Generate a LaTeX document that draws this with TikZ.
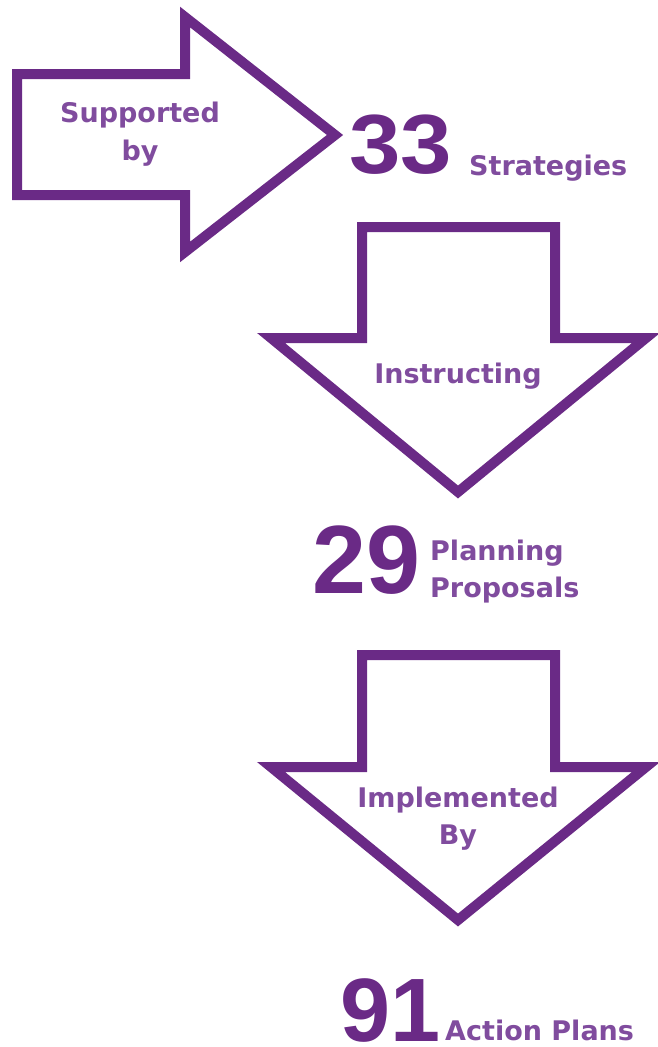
\documentclass[tikz,border=0pt]{standalone}
\usepackage{fontspec}
\setmainfont{DejaVu Sans}
\newfontfamily\numfont{Liberation Sans}
\usepackage{tikz}

\definecolor{darkpurple}{RGB}{106,42,134}
\definecolor{lightpurple}{RGB}{128,76,158}

\begin{document}
\begin{tikzpicture}[x=1pt, y=-1pt,
    outline/.style={draw=darkpurple, line width=10pt, line join=miter, miter limit=10},
    label/.style={text=lightpurple, inner sep=0pt, anchor=base, font=\bfseries\fontsize{27}{37}\selectfont},
    count/.style={text=darkpurple, inner sep=0pt, anchor=base west, font=\numfont\bfseries\fontsize{#1}{#1}\selectfont},
    caption/.style={label, anchor=base west}]
  \useasboundingbox (0,0) rectangle (658,1047);

  % Arrow shapes
  \draw[outline] (17,74) -- (185,74) -- (185,17) -- (335,135) -- (185,252) -- (185,195) -- (17,195) -- cycle;
  \draw[outline] (362,227) -- (555,227) -- (555,338) -- (646,338) -- (458,492) -- (271,338) -- (362,338) -- cycle;
  \draw[outline] (362,655) -- (555,655) -- (555,767) -- (646,767) -- (458,920) -- (271,767) -- (362,767) -- cycle;

  % Arrow labels
  \node[label] (supported) at (140,122) {Supported};
  \node[label] (by) at (140,160) {by};
  \node[label] (instructing) at (458,383) {Instructing};
  \node[label] (implemented) at (458,807) {Implemented};
  \node[label] (By) at (458,844) {By};

  % Counts
  \node[count=84, xscale=1.1] (n33) at (349,173) {33};
  \node[caption] (strategies) at (469,175) {Strategies};
  \node[count=97] (n29) at (312,593) {29};
  \node[caption] (planning) at (430,560) {Planning};
  \node[caption] (proposals) at (430,597) {Proposals};
  \node[count=90] (n91) at (340,1041) {91};
  \node[caption] (actionplans) at (445,1040) {Action Plans};
\end{tikzpicture}
\end{document}
